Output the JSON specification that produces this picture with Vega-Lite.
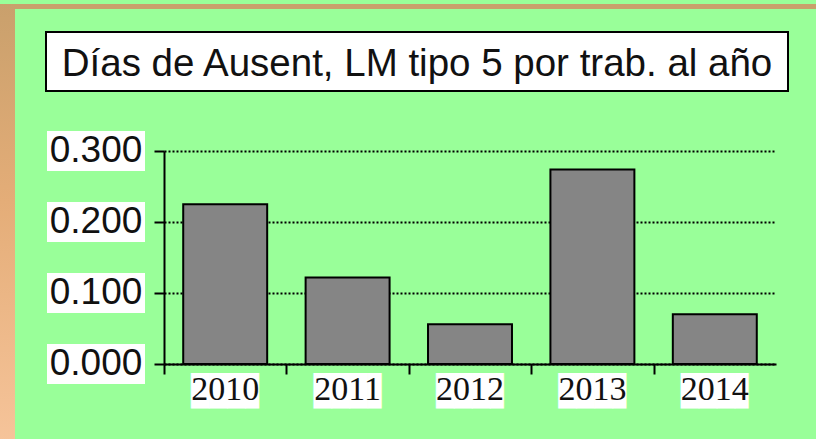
{
  "$schema": "https://vega.github.io/schema/vega-lite/v6.json",
  "background": "#99ff99",
  "padding": 0,
  "spacing": 0,
  "datasets": {
    "bars": [
      {"year": "2010", "v": 0.225},
      {"year": "2011", "v": 0.122},
      {"year": "2012", "v": 0.056},
      {"year": "2013", "v": 0.274},
      {"year": "2014", "v": 0.070}
    ],
    "ticks": [{"t": 0}, {"t": 0.1}, {"t": 0.2}, {"t": 0.3}],
    "ttl": [{"t": "Días de Ausent, LM tipo 5 por trab. al año"}],
    "one": [{"k": 1}]
  },
  "config": {"view": {"stroke": null}},
  "hconcat": [
    {
      "width": 15,
      "height": 439,
      "data": {"name": "one"},
      "mark": {"type": "rect", "color": {"gradient": "linear", "x1": 0, "y1": 0, "x2": 0, "y2": 1,
        "stops": [{"offset": 0, "color": "#c9a06c"}, {"offset": 0.45, "color": "#e4ad78"}, {"offset": 1, "color": "#f6c49a"}]}},
      "encoding": {}
    },
    {
      "spacing": 14,
      "vconcat": [
        {
          "width": 801,
          "height": 5,
          "view": {"fill": "#c9a06c"},
          "data": {"name": "one"},
          "mark": {"type": "text", "text": ""},
          "encoding": {}
        },
        {
          "spacing": 29,
          "hconcat": [
            {
              "width": 1,
              "height": 1,
              "data": {"name": "one"},
              "mark": {"type": "text", "text": ""},
              "encoding": {}
            },
            {
              "spacing": 39,
              "vconcat": [
                {
                  "width": 742,
                  "height": 59,
                  "view": {"fill": "white", "stroke": "black", "strokeWidth": 2},
                  "data": {"name": "ttl"},
                  "mark": {"type": "text", "font": "Liberation Sans", "fontSize": 38.5, "color": "#111111", "dy": 2},
                  "encoding": {"text": {"field": "t", "type": "nominal"}}
                },
                {
                  "spacing": 7,
                  "hconcat": [
                    {
                      "width": 100,
                      "height": 213,
                      "data": {"name": "ticks"},
                      "layer": [
                        {
                          "mark": {"type": "point", "shape": "M-1,-0.408H1V0.408H-1Z", "size": 9604, "filled": true, "fill": "white", "opacity": 1, "strokeWidth": 0},
                          "encoding": {
                            "y": {"field": "t", "type": "quantitative", "scale": {"domain": [0, 0.3], "nice": false}, "axis": null}
                          }
                        },
                        {
                          "mark": {"type": "text", "font": "Liberation Sans", "fontSize": 37, "align": "center", "baseline": "middle", "color": "#111111"},
                          "encoding": {
                            "y": {"field": "t", "type": "quantitative", "scale": {"domain": [0, 0.3], "nice": false}, "axis": null},
                            "text": {"field": "t", "type": "quantitative", "format": ".3f"}
                          }
                        }
                      ]
                    },
                    {
                      "width": 612,
                      "height": 213,
                      "data": {"name": "bars"},
                      "resolve": {"axis": {"x": "independent"}},
                      "layer": [
                        {
                          "mark": {"type": "bar", "fill": "#858585", "stroke": "black", "strokeWidth": 2},
                          "encoding": {
                            "x": {"field": "year", "type": "ordinal",
                              "scale": {"paddingInner": 0.314, "paddingOuter": 0.157},
                              "axis": {"orient": "bottom", "title": null, "labels": false, "grid": false,
                                "domain": true, "domainColor": "black", "domainWidth": 2,
                                "ticks": true, "tickColor": "black", "tickWidth": 2, "tickSize": 10,
                                "bandPosition": 0, "tickOffset": -19.2}},
                            "y": {"field": "v", "type": "quantitative",
                              "scale": {"domain": [0, 0.3], "nice": false},
                              "axis": {"orient": "left", "title": null, "labels": false, "values": [0, 0.1, 0.2, 0.3],
                                "domain": true, "domainColor": "black", "domainWidth": 2,
                                "ticks": true, "tickColor": "black", "tickWidth": 2, "tickSize": 10,
                                "grid": true, "gridColor": "black", "gridWidth": 2, "gridDash": [2, 2], "gridOpacity": 1}}
                          }
                        },
                        {
                          "mark": {"type": "bar", "opacity": 0},
                          "encoding": {
                            "x": {"field": "year", "type": "ordinal",
                              "axis": {"orient": "bottom", "title": null, "grid": false, "domain": false, "ticks": false, "tickSize": 0,
                                "labelExpr": "'███▊'", "labelFont": "DejaVu Sans Mono", "labelFontSize": 30,
                                "labelColor": "white", "labelBaseline": "middle", "labelPadding": 27, "labelOffset": 2, "labelAngle": 0}},
                            "y": {"field": "v", "type": "quantitative"}
                          }
                        },
                        {
                          "mark": {"type": "bar", "opacity": 0},
                          "encoding": {
                            "x": {"field": "year", "type": "ordinal",
                              "axis": {"orient": "bottom", "title": null, "grid": false, "domain": false, "ticks": false, "tickSize": 0,
                                "labelFont": "Liberation Serif", "labelFontSize": 34,
                                "labelColor": "#111111", "labelBaseline": "middle", "labelPadding": 25, "labelAngle": 0}},
                            "y": {"field": "v", "type": "quantitative"}
                          }
                        }
                      ]
                    }
                  ]
                }
              ]
            }
          ]
        }
      ]
    }
  ]
}
